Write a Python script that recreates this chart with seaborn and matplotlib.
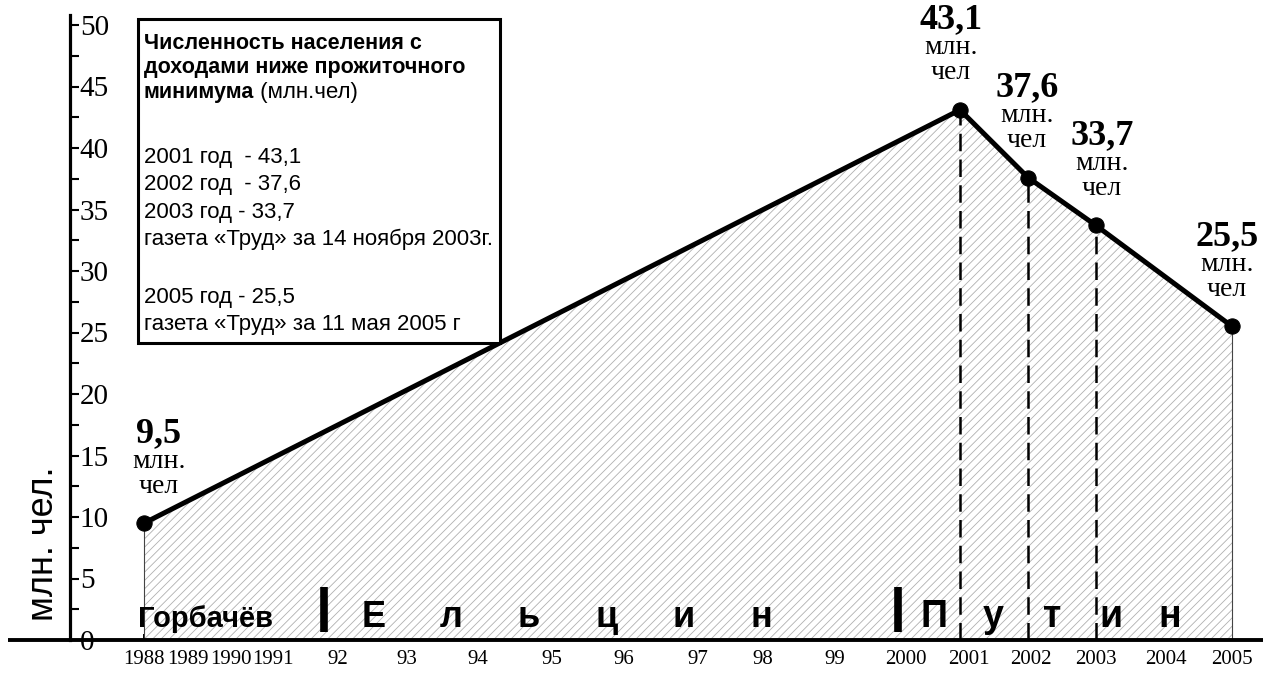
import numpy as np
import matplotlib
matplotlib.use('Agg')
import matplotlib.pyplot as plt
import seaborn as sns
from matplotlib import font_manager
from matplotlib.patches import Rectangle
from matplotlib.ticker import NullFormatter

# data: population below the subsistence minimum, mln people
years = [1988, 2001, 2002, 2003, 2005]
values = [9.5, 43.1, 37.6, 33.7, 25.5]
value_labels = ['9,5', '43,1', '37,6', '33,7', '25,5']

axis_years = list(range(1988, 2006))
year_labels = ['1988', '1989', '1990', '1991', '92', '93', '94', '95', '96',
               '97', '98', '99', '2000', '2001', '2002', '2003', '2004', '2005']

legend_bold = ['Численность населения с', 'доходами ниже прожиточного', 'минимума']
legend_unit = ' (млн.чел)'
legend_lines = ['2001 год  - 43,1', '2002 год  - 37,6', '2003 год - 33,7',
                'газета «Труд» за 14 ноября 2003г.',
                '2005 год - 25,5', 'газета «Труд» за 11 мая 2005 г']

eras = ['Горбачёв', 'Ельцин', 'Путин']


def year_to_x(y):
    # the original axis squeezes the Gorbachev years into two tick steps
    y = np.asarray(y, dtype=float)
    return np.where(y < 1992, (y - 1988) * 0.64, y - 1989)


sns.set_style('white')
plt.rcParams['font.family'] = ['Liberation Serif', 'DejaVu Serif']
plt.rcParams['hatch.linewidth'] = 0.6
for key in ['text.color', 'axes.labelcolor', 'xtick.color', 'ytick.color']:
    plt.rcParams[key] = 'black'

names = {f.name for f in font_manager.fontManager.ttflist}
SANS = ['Liberation Sans', 'DejaVu Sans']
if 'Liberation Sans Narrow' in names:
    NARROW, gorb_size = ['Liberation Sans Narrow', 'Liberation Sans'], 26
else:
    NARROW, gorb_size = SANS, 21

fig = plt.figure(figsize=(12.63, 6.73), dpi=100)
ax = fig.add_axes([70 / 1263, 33 / 673, 1193 / 1263, 625 / 673])

xs = year_to_x(years)

# hatched area under the curve
ax.fill_between(xs, values, 0, facecolor='white', edgecolor='#b0b0b0',
                hatch='////', linewidth=0, zorder=1)
ax.vlines([xs[0], xs[-1]], 0, [values[0], values[-1]], colors='#444444', lw=0.8, zorder=2)
ax.vlines(xs[1:4], 0, values[1:4], colors='black', lw=1.8,
          linestyles=(0, (7, 3.3)), zorder=2)

sns.lineplot(x=xs, y=values, color='black', lw=3.6, marker='o', markersize=11,
             markeredgecolor='black', markerfacecolor='black', ax=ax, zorder=4)

ax.set_xlim((70 - 144) / 68, (1263 - 144) / 68)
ax.set_ylim(0, 625 / 12.3)

# value labels above points
dx = [15, -9, -1, 6, -5]
for x, v, lab, d in zip(xs, values, value_labels, dx):
    ax.annotate(lab, (x, v), xytext=(d, 90), textcoords='offset pixels',
                ha='center', va='center', fontsize=26, fontweight='bold', zorder=5)
    ax.annotate('млн.', (x, v), xytext=(d, 62), textcoords='offset pixels',
                ha='center', va='center', fontsize=20, zorder=5)
    ax.annotate('чел', (x, v), xytext=(d, 37), textcoords='offset pixels',
                ha='center', va='center', fontsize=20, zorder=5)

# y axis
sns.despine(ax=ax, top=True, right=True, bottom=True)
ax.spines['left'].set_linewidth(2.3)
ax.spines['left'].set_color('black')
ax.set_yticks(np.arange(0, 51, 5))
ax.set_yticks(np.arange(2.5, 50, 5), minor=True)
ax.tick_params(axis='y', which='both', direction='in', length=6.5, width=1.5,
               color='black', left=True)
ax.tick_params(axis='y', which='major', pad=-7, labelsize=21)
plt.setp(ax.get_yticklabels(), ha='left')
ax.text(-0.0226, 0.1536, 'млн. чел.', transform=ax.transAxes, rotation=90,
        ha='center', va='center', fontsize=26, family=SANS)

# x axis: evenly spaced tick marks, year labels placed on the squeezed scale
ax.plot([-0.052, 1], [0, 0], transform=ax.get_yaxis_transform(), color='black',
        lw=2.8, clip_on=False, solid_capstyle='butt', zorder=6)
ax.xaxis.remove_overlapping_locs = False
ax.set_xticks(np.arange(0, 17))
ax.xaxis.set_major_formatter(NullFormatter())
nudge = [0, 0, 0, -0.03, -0.15, -0.13, -0.09, 0, 0.05, 0.15, 0.1, 0.16, 0.2,
         0.13, 0.04, 0, 0.03, 0]
ax.set_xticks(year_to_x(axis_years) + np.array(nudge), labels=year_labels, minor=True)
ax.tick_params(axis='x', which='major', direction='in', length=4.5, width=1.4,
               color='black', bottom=True)
ax.tick_params(axis='x', which='minor', length=0, pad=7, labelsize=15)

# era names along the bottom
base = 13 / 12.3
ax.text(-0.09, base, eras[0], ha='left', va='baseline', fontsize=gorb_size,
        fontweight='bold', family=NARROW, zorder=5)
for i, ch in enumerate(eras[1]):
    ax.text(3.37 + i * 1.142, base, ch, ha='center', va='baseline', fontsize=26,
            fontweight='bold', family=SANS, zorder=5)
for i, ch in enumerate(eras[2]):
    ax.text(11.62 + i * 0.865, base, ch, ha='center', va='baseline', fontsize=27,
            fontweight='bold', family=SANS, zorder=5)
ax.vlines([2.65, 11.09], 0.65, 4.3, colors='black', lw=5.5, zorder=5)

# source box
ax.add_patch(Rectangle((0.057, 0.4752), 0.3034, 0.5184, transform=ax.transAxes,
                       facecolor='white', edgecolor='black', lw=2.2, zorder=7))
tx = 0.062
bold_base = [49, 73, 98]
for line, b in zip(legend_bold, bold_base):
    t = ax.text(tx, (640 - b) / 625, line, transform=ax.transAxes, ha='left',
                va='baseline', fontsize=15.5, fontweight='bold', family=SANS, zorder=8)
ax.annotate(legend_unit, xy=(1, (640 - bold_base[-1]) / 625),
            xycoords=(t, 'axes fraction'), ha='left', va='baseline',
            fontsize=16, family=SANS, zorder=8)
for line, b in zip(legend_lines, [163, 190, 218, 245, 303, 330]):
    ax.text(tx, (640 - b) / 625, line, transform=ax.transAxes, ha='left',
            va='baseline', fontsize=16, family=SANS, zorder=8)

fig.savefig('out.png', dpi=100)
